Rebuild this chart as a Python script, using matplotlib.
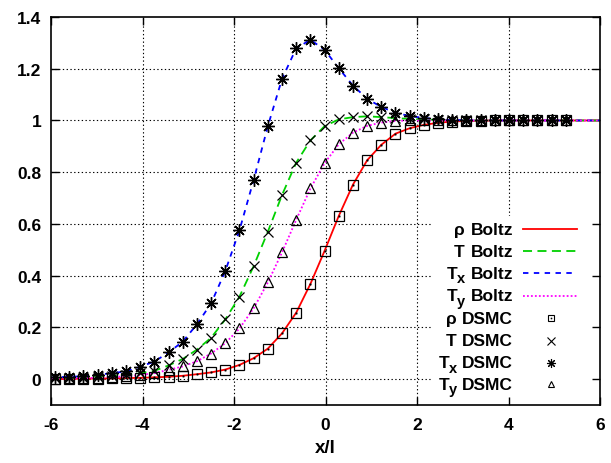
import numpy as np
import matplotlib
matplotlib.use("Agg")
import matplotlib.pyplot as plt
from matplotlib.lines import Line2D
from matplotlib.patches import Rectangle

plt.rcParams['font.family'] = ['Liberation Sans', 'DejaVu Sans']
plt.rcParams['font.weight'] = 'bold'
plt.rcParams['axes.unicode_minus'] = False

# ---- data ----
x_dsmc = [-5.91, -5.60, -5.29, -4.98, -4.67, -4.36, -4.05, -3.74, -3.43, -3.12,
          -2.81, -2.50, -2.19, -1.88, -1.57, -1.26, -0.95, -0.64, -0.33, -0.02,
          0.29, 0.60, 0.91, 1.22, 1.53, 1.84, 2.15, 2.46, 2.77, 3.08,
          3.39, 3.70, 4.01, 4.32, 4.63, 4.94, 5.25]

rho = [0.000, 0.001, 0.002, 0.002, 0.003, 0.004, 0.005, 0.007, 0.009, 0.013,
       0.019, 0.026, 0.037, 0.055, 0.081, 0.118, 0.177, 0.257, 0.368, 0.496,
       0.631, 0.752, 0.846, 0.906, 0.949, 0.970, 0.983, 0.991, 0.996, 0.998,
       0.999, 1.000, 1.000, 1.000, 1.000, 1.000, 1.000]

T = [0.003, 0.004, 0.006, 0.009, 0.012, 0.016, 0.023, 0.032, 0.053, 0.078,
     0.114, 0.160, 0.231, 0.319, 0.437, 0.570, 0.712, 0.837, 0.923, 0.978,
     1.004, 1.013, 1.016, 1.013, 1.009, 1.006, 1.004, 1.002, 1.001, 1.000,
     1.000, 1.000, 1.000, 1.000, 1.000, 1.000, 1.000]

Tx = [0.007, 0.009, 0.011, 0.017, 0.023, 0.030, 0.048, 0.068, 0.103, 0.145,
      0.212, 0.293, 0.418, 0.576, 0.770, 0.978, 1.161, 1.279, 1.312, 1.273,
      1.202, 1.135, 1.084, 1.052, 1.030, 1.017, 1.010, 1.004, 1.002, 1.001,
      1.000, 1.000, 1.000, 1.000, 1.000, 1.000, 1.000]

Ty = [0.002, 0.003, 0.004, 0.005, 0.008, 0.011, 0.016, 0.023, 0.036, 0.049,
      0.069, 0.099, 0.139, 0.196, 0.274, 0.374, 0.490, 0.616, 0.737, 0.835,
      0.908, 0.953, 0.979, 0.992, 0.998, 1.000, 1.000, 1.000, 1.000, 1.000,
      1.000, 1.000, 1.000, 1.000, 1.000, 1.000, 1.000]

# Boltzmann curves share the sampled values, extended to the plot edges
x_edges = [-6.0, 6.0]
rho_edges = [0.000, 1.000]
T_edges = [0.002, 1.000]
Tx_edges = [0.006, 1.000]
Ty_edges = [0.001, 1.000]

x_ticks = [-6, -4, -2, 0, 2, 4, 6]
y_ticks = [0, 0.2, 0.4, 0.6, 0.8, 1.0, 1.2, 1.4]
y_ticklabels = ['0', '0.2', '0.4', '0.6', '0.8', '1', '1.2', '1.4']

# legend labels: (main symbol, subscript, suffix)
labels_boltz = [('ρ', '', 'Boltz'), ('T', '', 'Boltz'), ('T', 'x', 'Boltz'), ('T', 'y', 'Boltz')]
labels_dsmc = [('ρ', '', 'DSMC'), ('T', '', 'DSMC'), ('T', 'x', 'DSMC'), ('T', 'y', 'DSMC')]

# ---- figure ----
W, H = 611, 464
fig = plt.figure(figsize=(W / 100, H / 100), dpi=100)
AX_L, AX_R, AX_T, AX_B = 51, 600, 18, 406
ax = fig.add_axes([AX_L / W, 1 - AX_B / H, (AX_R - AX_L) / W, (AX_B - AX_T) / H])
ax.set_xlim(-6, 6)
ax.set_ylim(-0.1, 1.4)

# grid (manual, so that the legend box can hide it)
grid_kw = dict(color='black', lw=0.8, ls=(0, (1.2, 2.2)), zorder=0.3)
for xv in x_ticks[1:-1]:
    ax.axvline(xv, **grid_kw)
for yv in y_ticks[:-1]:
    ax.axhline(yv, **grid_kw)

def ext(xs, ys, e):
    xx = np.concatenate([[x_edges[0]], xs, [x_edges[1]]])
    yy = np.concatenate([[e[0]], ys, [e[1]]])
    return xx, yy

red = '#ff0000'
green = '#00d000'
blue = '#0000ff'
magenta = '#ff00ff'

styles = [
    (rho, rho_edges, dict(color=red, lw=1.3, ls='-')),
    (T, T_edges, dict(color=green, lw=1.3, ls=(0, (5, 3)))),
    (Tx, Tx_edges, dict(color=blue, lw=1.3, ls=(0, (3, 3)))),
    (Ty, Ty_edges, dict(color=magenta, lw=1.3, ls=(0, (1, 1.2)))),
]
for ys, e, kw in styles:
    xx, yy = ext(x_dsmc, ys, e)
    ax.plot(xx, yy, zorder=2, **kw)

mk = dict(color='black', lw=0, zorder=3)
ax.plot(x_dsmc, rho, marker='s', ms=6.5, mfc='none', mec='black', mew=0.9, **mk)
ax.plot(x_dsmc, rho, marker='s', ms=1.0, mfc='black', mec='black', mew=0.3, **mk)
ax.plot(x_dsmc, T, marker='x', ms=7, mec='black', mew=0.9, **mk)
ax.plot(x_dsmc, Tx, marker=(8, 2, 0), ms=9, mec='black', mew=1.0, **mk)
ax.plot(x_dsmc, Ty, marker='^', ms=6.5, mfc='none', mec='black', mew=0.9, **mk)

# pixel -> axes fraction
def px2ax(px, py):
    return (px - AX_L) / (AX_R - AX_L), (AX_B - py) / (AX_B - AX_T)

# legend background hiding the grid
lx0, ly0 = px2ax(433, AX_B)
lx1, ly1 = px2ax(AX_R, 217)
ax.add_patch(Rectangle((lx0, ly0), lx1 - lx0, ly1 - ly0, transform=ax.transAxes,
                       facecolor='white', edgecolor='none', zorder=0.4))

# manual legend (text right-aligned, sample to the right)
row_y = [230, 252, 274, 296.5, 319, 341.5, 363.5, 385]
fs_leg = 12.5
fs_sub = 10.5
TEXT_RIGHT = 513
renderer = fig.canvas.get_renderer()

def legend_label(py, parts):
    sym, sub, suffix = parts
    base_py = py + 4.6  # baseline
    tx, ty = px2ax(TEXT_RIGHT, base_py)
    t1 = ax.text(tx, ty, suffix, transform=ax.transAxes, ha='right', va='baseline',
                 fontsize=fs_leg, fontweight='bold', zorder=5)
    bb = t1.get_window_extent(renderer)
    space = 5.5
    cur = bb.x0 - space
    if sub:
        sx = (cur - ax.bbox.x0) / ax.bbox.width
        sy_px = (H - base_py) - 4.5
        sy = (sy_px - ax.bbox.y0) / ax.bbox.height
        t2 = ax.text(sx, sy, sub, transform=ax.transAxes, ha='right', va='baseline',
                     fontsize=fs_sub, fontweight='bold', zorder=5)
        cur = t2.get_window_extent(renderer).x0 + 0.5
    mx = (cur - ax.bbox.x0) / ax.bbox.width
    ax.text(mx, ty, sym, transform=ax.transAxes, ha='right', va='baseline',
            fontsize=fs_leg, fontweight='bold', zorder=5)

for i, (parts, (_, _, kw)) in enumerate(zip(labels_boltz, styles)):
    legend_label(row_y[i], parts)
    x0, ty = px2ax(523, row_y[i])
    x1, _ = px2ax(577, row_y[i])
    ax.add_line(Line2D([x0, x1], [ty, ty], transform=ax.transAxes, zorder=5, **kw))

leg_markers = [
    dict(marker='s', ms=5, mfc='none', mec='black', mew=0.8),
    dict(marker='x', ms=5.5, mec='black', mew=0.8),
    dict(marker=(8, 2, 0), ms=6.5, mec='black', mew=0.8),
    dict(marker='^', ms=5, mfc='none', mec='black', mew=0.8),
]
for j, (parts, mkw) in enumerate(zip(labels_dsmc, leg_markers)):
    i = j + 4
    legend_label(row_y[i], parts)
    mx, ty = px2ax(551, row_y[i])
    ax.add_line(Line2D([mx], [ty], transform=ax.transAxes, lw=0, zorder=5, **mkw))
    if j == 0:
        ax.add_line(Line2D([mx], [ty], transform=ax.transAxes, lw=0, zorder=5,
                           marker='s', ms=0.8, mfc='black', mec='black', mew=0.3))

# axes styling
ax.set_xticks(x_ticks)
ax.set_xticklabels([str(v) for v in x_ticks])
ax.set_yticks(y_ticks)
ax.set_yticklabels(y_ticklabels)
ax.tick_params(axis='both', direction='in', length=5.5, width=1.0, top=True, right=True,
               labelsize=12.5, color='black')
ax.tick_params(axis='x', pad=9)
ax.tick_params(axis='y', pad=7)
for lab in ax.get_xticklabels() + ax.get_yticklabels():
    lab.set_fontweight('bold')
for sp in ax.spines.values():
    sp.set_linewidth(1.2)
ax.set_xlabel('x/l', fontsize=13.5, fontweight='bold', labelpad=5)

fig.savefig('out.png', dpi=100)
